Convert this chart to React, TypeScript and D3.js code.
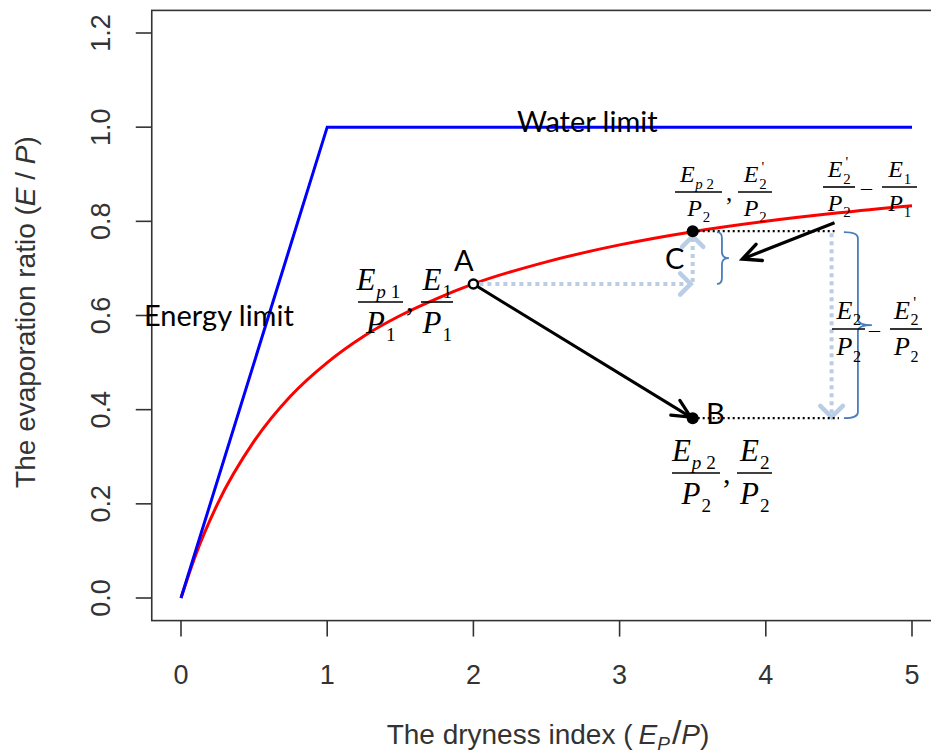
import React from "react";
import * as d3 from "d3";

const W = 931;
const H = 753;

// axis ticks
const xTicks = [0, 1, 2, 3, 4, 5];
const xTickLabels = ["0", "1", "2", "3", "4", "5"];
const yTicks = [0, 0.2, 0.4, 0.6, 0.8, 1.0, 1.2];
const yTickLabels = ["0.0", "0.2", "0.4", "0.6", "0.8", "1.0", "1.2"];

// Budyko limits (energy limit then water limit)
const limitX = [0, 1, 5];
const limitY = [0, 1, 1];

// Evaporation-ratio curve
const curveX = [0, 0.1, 0.25, 0.5, 0.75, 1, 1.25, 1.5, 1.75, 2, 2.5, 3, 3.5, 4, 4.5, 5];
const curveY = [0, 0.091, 0.2, 0.333, 0.429, 0.5, 0.556, 0.6, 0.636, 0.667, 0.714, 0.75, 0.778, 0.8, 0.818, 0.833];

// annotated points
const pointA = [2, 0.667];
const pointC = [3.5, 0.779];
const pointB = [3.5, 0.382];
const arrowStart = [4.47, 0.797];
const arrowEnd = [3.84, 0.72];
const rightX = 4.45;

const AX_FONT = "'Liberation Sans', Arial, Helvetica, sans-serif";
const SERIF = "'Liberation Serif', 'Times New Roman', serif";
const CAL = "Lato, 'Open Sans', sans-serif";
const LIGHT = "#b9cde5";
const BRACE = "#4a7ebb";

type Term = { l: string; sub?: string; subP?: boolean; prime?: boolean };

function TermText({ cx, by, size, term }: { cx: number; by: number; size: number; term: Term }) {
  const subSize = size * 0.62;
  const lw = size * 0.62;
  const subChars = term.sub ? term.sub.length + (term.subP ? 1 : 0) : 0;
  const sw = subChars * subSize * 0.5;
  const total = lw + sw;
  const x0 = cx - total / 2;
  return (
    <g fontFamily={SERIF} fill="#000">
      <text x={x0} y={by} fontSize={size} fontStyle="italic">
        {term.l}
      </text>
      {term.sub && (
        <text x={x0 + lw + size * 0.02} y={by + size * 0.26} fontSize={subSize}>
          {term.subP ? (
            <>
              <tspan fontStyle="italic">p</tspan>
              <tspan dx={subSize * 0.25}>{term.sub.slice(1)}</tspan>
            </>
          ) : (
            term.sub
          )}
        </text>
      )}
      {term.prime && (
        <text x={x0 + lw + size * 0.12} y={by - size * 0.42} fontSize={subSize}>
          '
        </text>
      )}
    </g>
  );
}

function Frac({ x0, x1, y, size, num, den }: { x0: number; x1: number; y: number; size: number; num: Term; den: Term }) {
  const cx = (x0 + x1) / 2;
  return (
    <g>
      <line x1={x0} x2={x1} y1={y} y2={y} stroke="#000" strokeWidth={1.6} />
      <TermText cx={cx} by={y - size * 0.4} size={size} term={num} />
      <TermText cx={cx} by={y + size * 1.0} size={size} term={den} />
    </g>
  );
}

function Chevron({ tip, angle, len, spread, color, width }: { tip: [number, number]; angle: number; len: number; spread: number; color: string; width: number }) {
  const a1 = angle + Math.PI - spread;
  const a2 = angle + Math.PI + spread;
  const p1 = [tip[0] + len * Math.cos(a1), tip[1] + len * Math.sin(a1)];
  const p2 = [tip[0] + len * Math.cos(a2), tip[1] + len * Math.sin(a2)];
  return (
    <path
      d={`M${p1[0]},${p1[1]} L${tip[0]},${tip[1]} L${p2[0]},${p2[1]}`}
      fill="none"
      stroke={color}
      strokeWidth={width}
      strokeLinecap="round"
      strokeLinejoin="miter"
    />
  );
}

function bracePath(x: number, y1: number, y2: number, arm: number, nub: number) {
  const ym = (y1 + y2) / 2;
  const r = Math.min(6, (y2 - y1) / 6);
  return `M${x - arm},${y1} Q${x},${y1} ${x},${y1 + r} L${x},${ym - r} Q${x},${ym} ${x + nub},${ym} M${x + nub},${ym} Q${x},${ym} ${x},${ym + r} L${x},${y2 - r} Q${x},${y2} ${x - arm},${y2}`;
}

export default function App() {
  const x = d3.scaleLinear().domain([0, 5]).range([181, 912]);
  const y = d3.scaleLinear().domain([0, 1.2]).range([598, 33]);

  const fx0 = x(-0.2);
  const fx1 = x(5.2);
  const fy0 = y(1.248);
  const fy1 = y(-0.048);

  const curveLine = d3
    .line<number>()
    .x((_, i) => x(curveX[i]))
    .y((d) => y(d))
    .curve(d3.curveMonotoneX);
  const limitLine = d3
    .line<number>()
    .x((_, i) => x(limitX[i]))
    .y((d) => y(d));

  const A = [x(pointA[0]), y(pointA[1])] as [number, number];
  const C = [x(pointC[0]), y(pointC[1])] as [number, number];
  const B = [x(pointB[0]), y(pointB[1])] as [number, number];
  const S = [x(arrowStart[0]), y(arrowStart[1])] as [number, number];
  const Ee = [x(arrowEnd[0]), y(arrowEnd[1])] as [number, number];
  const rx = x(rightX);

  const angAB = Math.atan2(B[1] - A[1], B[0] - A[0]);
  const angSE = Math.atan2(Ee[1] - S[1], Ee[0] - S[0]);

  return (
    <svg width={W} height={H} style={{ position: "absolute", left: 0, top: 0, background: "#fff" }}>
      <rect x={0} y={0} width={W} height={H} fill="#fff" />
      {/* frame */}
      <rect x={fx0} y={fy0} width={fx1 - fx0} height={fy1 - fy0} fill="none" stroke="#333" strokeWidth={1.6} />

      {/* axes */}
      <g fontFamily={AX_FONT} fontSize={27} fill="#333">
        {xTicks.map((t, i) => (
          <g key={"xt" + i}>
            <line x1={x(t)} x2={x(t)} y1={fy1} y2={fy1 + 16} stroke="#333" strokeWidth={1.6} />
            <text x={x(t)} y={684} textAnchor="middle">
              {xTickLabels[i]}
            </text>
          </g>
        ))}
        {yTicks.map((t, i) => (
          <g key={"yt" + i}>
            <line x1={fx0 - 16} x2={fx0} y1={y(t)} y2={y(t)} stroke="#333" strokeWidth={1.6} />
            <text transform={`translate(110,${y(t)}) rotate(-90)`} textAnchor="middle">
              {yTickLabels[i]}
            </text>
          </g>
        ))}
        <text x={548} y={744} textAnchor="middle" fontSize={28}>
          The dryness index (
          <tspan dx={6} fontStyle="italic">E</tspan>
          <tspan fontStyle="italic" fontSize={19} dy={6}>P</tspan>
          <tspan dy={-6} dx={2} fontSize={34}>/</tspan>
          <tspan fontStyle="italic">P</tspan>)
        </text>
        <text transform={`translate(35,312) rotate(-90)`} textAnchor="middle" fontSize={28}>
          The evaporation ratio (<tspan fontStyle="italic">E</tspan> / <tspan fontStyle="italic">P</tspan>)
        </text>
      </g>

      {/* curves */}
      <path d={curveLine(curveY) || ""} fill="none" stroke="#ff0000" strokeWidth={3} />
      <path d={limitLine(limitY) || ""} fill="none" stroke="#0000ff" strokeWidth={3} />

      {/* light blue dotted arrows */}
      <line x1={A[0] + 6} x2={C[0] - 2} y1={A[1]} y2={A[1]} stroke={LIGHT} strokeWidth={4} strokeDasharray="4 4" />
      <Chevron tip={[C[0] - 2, A[1]]} angle={0} len={15} spread={Math.PI / 4} color={LIGHT} width={4.5} />
      <line x1={C[0]} x2={C[0]} y1={A[1] - 2} y2={C[1] + 6} stroke={LIGHT} strokeWidth={4} strokeDasharray="4 4" />
      <Chevron tip={[C[0], C[1] + 5]} angle={-Math.PI / 2} len={15} spread={Math.PI / 4} color={LIGHT} width={4.5} />
      <line x1={rx} x2={rx} y1={C[1] + 2} y2={B[1]} stroke={LIGHT} strokeWidth={4} strokeDasharray="4 4" />
      <Chevron tip={[rx, B[1] - 1]} angle={Math.PI / 2} len={16} spread={Math.PI / 4} color={LIGHT} width={4.5} />

      {/* black dotted horizontal lines */}
      <line x1={C[0]} x2={x(4.47)} y1={C[1]} y2={C[1]} stroke="#000" strokeWidth={2.2} strokeDasharray="2 3" />
      <line x1={B[0]} x2={x(4.5)} y1={B[1]} y2={B[1]} stroke="#000" strokeWidth={2.2} strokeDasharray="2 3" />

      {/* braces */}
      <path d={bracePath(x(3.7), C[1] + 1, A[1], 5, 7)} fill="none" stroke={BRACE} strokeWidth={1.8} />
      <path d={bracePath(x(4.63), C[1] + 1, B[1], 14, 14)} fill="none" stroke={BRACE} strokeWidth={1.8} />

      {/* black arrows */}
      <line x1={A[0]} y1={A[1]} x2={B[0] - 2} y2={B[1] - 1} stroke="#000" strokeWidth={3} />
      <Chevron tip={[B[0] - 2, B[1] - 1]} angle={angAB} len={20} spread={Math.PI / 7} color="#000" width={3.2} />
      <line x1={S[0]} y1={S[1]} x2={Ee[0]} y2={Ee[1]} stroke="#000" strokeWidth={3.2} />
      <Chevron tip={Ee} angle={angSE} len={20} spread={Math.PI / 7} color="#000" width={3.4} />

      {/* points */}
      <circle cx={C[0]} cy={C[1]} r={6} fill="#000" />
      <circle cx={B[0]} cy={B[1]} r={6} fill="#000" />
      <circle cx={A[0]} cy={A[1]} r={4.5} fill="#fff" stroke="#000" strokeWidth={2.5} />

      {/* labels */}
      <g fontFamily={CAL} fontSize={29} fill="#000">
        <text x={144} y={326}>Energy limit</text>
        <text x={517} y={132}>Water limit</text>
        <text x={454} y={271}>A</text>
        <text x={706} y={424}>B</text>
        <text x={665} y={269}>C</text>
      </g>

      {/* fractions */}
      <Frac x0={358} x1={403} y={302} size={31} num={{ l: "E", sub: "p1", subP: true }} den={{ l: "P", sub: "1" }} />
      <text x={406} y={311} fontFamily={SERIF} fontSize={30}>,</text>
      <Frac x0={421} x1={453} y={302} size={31} num={{ l: "E", sub: "1" }} den={{ l: "P", sub: "1" }} />

      <Frac x0={675} x1={722} y={192} size={24} num={{ l: "E", sub: "p2", subP: true }} den={{ l: "P", sub: "2" }} />
      <text x={726} y={201} fontFamily={SERIF} fontSize={25}>,</text>
      <Frac x0={738} x1={772} y={192} size={24} num={{ l: "E", sub: "2", prime: true }} den={{ l: "P", sub: "2" }} />

      <Frac x0={823} x1={855} y={187} size={24} num={{ l: "E", sub: "2", prime: true }} den={{ l: "P", sub: "2" }} />
      <text x={861} y={195} fontFamily={SERIF} fontSize={22}>–</text>
      <Frac x0={882} x1={917} y={187} size={24} num={{ l: "E", sub: "1" }} den={{ l: "P", sub: "1" }} />

      <Frac x0={832} x1={865} y={329} size={26} num={{ l: "E", sub: "2" }} den={{ l: "P", sub: "2" }} />
      <text x={869} y={337} fontFamily={SERIF} fontSize={22}>–</text>
      <Frac x0={890} x1={922} y={329} size={26} num={{ l: "E", sub: "2", prime: true }} den={{ l: "P", sub: "2" }} />

      <Frac x0={672} x1={720} y={473} size={31} num={{ l: "E", sub: "p2", subP: true }} den={{ l: "P", sub: "2" }} />
      <text x={723} y={483} fontFamily={SERIF} fontSize={30}>,</text>
      <Frac x0={737} x1={772} y={473} size={31} num={{ l: "E", sub: "2" }} den={{ l: "P", sub: "2" }} />
    </svg>
  );
}
